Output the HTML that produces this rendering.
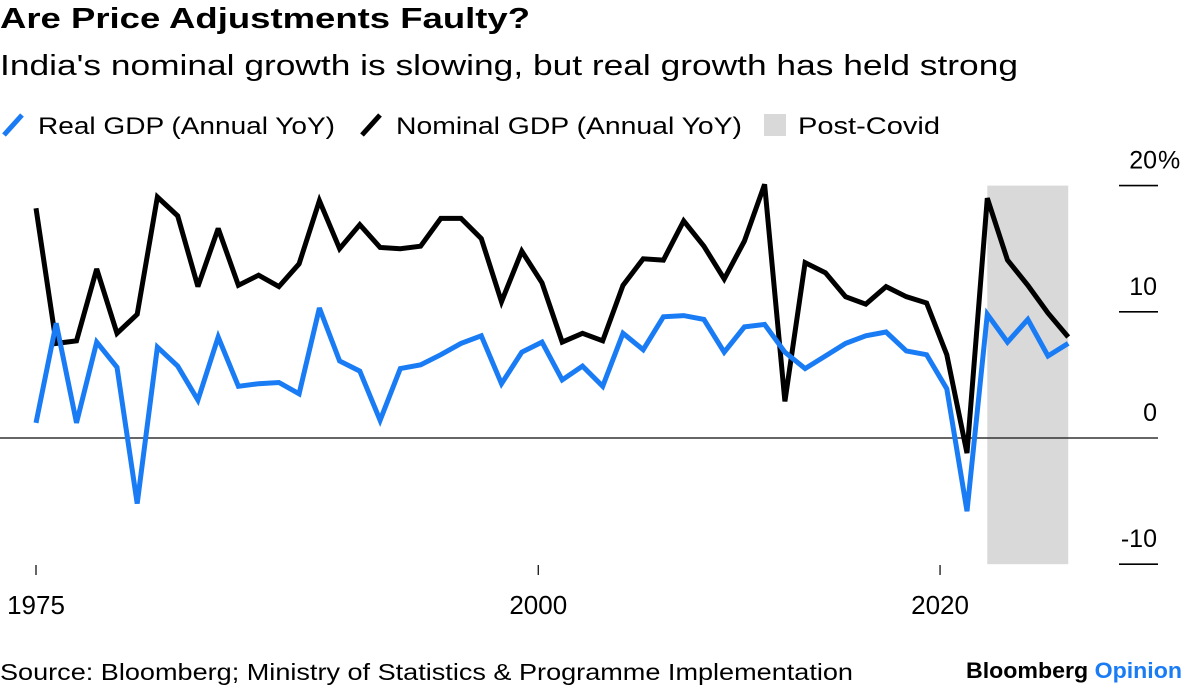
<!DOCTYPE html>
<html><head><meta charset="utf-8"><style>
body{margin:0;background:#fff;width:1184px;height:690px;overflow:hidden;font-family:"Liberation Sans",sans-serif;}
svg{position:absolute;left:0;top:0}
text{font-family:"Liberation Sans",sans-serif}
</style></head><body>
<svg id="chart" width="1184" height="690">
<text x="0" y="28" font-size="29" font-weight="bold" fill="#000" textLength="530" lengthAdjust="spacingAndGlyphs">Are Price Adjustments Faulty?</text>
<text x="0" y="75" font-size="29" fill="#000" textLength="1018" lengthAdjust="spacingAndGlyphs">India's nominal growth is slowing, but real growth has held strong</text>
<g>
<g><line x1="4" y1="135" x2="22" y2="115" stroke="#1a7cf5" stroke-width="5"/><text x="38" y="134" font-size="24" fill="#000" textLength="297" lengthAdjust="spacingAndGlyphs">Real GDP (Annual YoY)</text></g>
<g><line x1="362" y1="135" x2="380" y2="115" stroke="#000" stroke-width="5"/><text x="396" y="134" font-size="24" fill="#000" textLength="346" lengthAdjust="spacingAndGlyphs">Nominal GDP (Annual YoY)</text></g>
<g><rect x="764" y="114" width="22" height="22" fill="#d9d9d9"/><text x="798" y="134" font-size="24" fill="#000" textLength="142" lengthAdjust="spacingAndGlyphs">Post-Covid</text></g>
</g>
<g id="plot"></g>
<text x="0" y="680" font-size="23" fill="#000" textLength="853" lengthAdjust="spacingAndGlyphs">Source: Bloomberg; Ministry of Statistics &amp; Programme Implementation</text>
<text x="966" y="678" font-size="22" font-weight="bold" textLength="216" lengthAdjust="spacingAndGlyphs"><tspan fill="#000">Bloomberg </tspan><tspan fill="#1a7cf5">Opinion</tspan></text>
</svg>
<script>
const years=[];for(let y=1975;y<=2026;y++)years.push(y);
const nominal=[18.2,7.5,7.7,13.4,8.3,9.8,19.1,17.6,12.0,16.6,12.1,12.9,12.0,13.8,18.8,15.0,16.9,15.1,15.0,15.2,17.4,17.4,15.8,10.8,14.8,12.3,7.6,8.3,7.7,12.1,14.2,14.1,17.2,15.2,12.6,15.6,20.1,2.9,13.9,13.1,11.2,10.6,12.0,11.2,10.7,6.6,-1.2,19.0,14.1,12.1,9.9,8.0];
const real=[1.2,9.1,1.2,7.6,5.6,-5.2,7.2,5.7,3.0,8.0,4.1,4.3,4.4,3.5,10.3,6.1,5.3,1.4,5.5,5.8,6.6,7.5,8.1,4.3,6.8,7.6,4.6,5.7,4.1,8.3,7.0,9.6,9.7,9.4,6.8,8.8,9.0,6.8,5.5,6.5,7.5,8.1,8.4,6.9,6.6,3.9,-5.8,9.8,7.6,9.4,6.5,7.5];
const yTicks=[20,10,0,-10];
const yTickLabels=["20","10","0","-10"];
const xTicks=[1975,2000,2020];
const shadeRange=[2022,2026];
const shadeValues=[20,-10];

const NS="http://www.w3.org/2000/svg";
const plot=document.getElementById('plot');
function xScale(y){return 36+(y-1975)*20.24;}
function xTickScale(y){return 36+(y-1975)*20.09;}
function yScale(v){return 438-v*12.62;}
function mk(tag,attrs){const e=document.createElementNS(NS,tag);for(const k in attrs)e.setAttribute(k,attrs[k]);plot.appendChild(e);return e;}

const sh=mk('rect',{x:xScale(shadeRange[0]),y:yScale(shadeValues[0]),width:xScale(shadeRange[1])-xScale(shadeRange[0]),height:yScale(shadeValues[1])-yScale(shadeValues[0]),fill:'#d9d9d9'});



yTicks.forEach((t,i)=>{
  const yy=yScale(t);
  if(t===0){
    const l=mk('line',{x1:0,x2:1158,y1:yy,y2:yy,stroke:'#333','stroke-width':1.4});
    
    
  }else{
    const l=mk('line',{x1:1119,x2:1158,y1:yy,y2:yy,stroke:'#000','stroke-width':1.6});
    
    
  }
  const tx=mk('text',{x:1157,y:yy-17,'font-size':25,'text-anchor':'end',fill:'#000'});
  tx.textContent=yTickLabels[i];
  
  
  if(i===0){
    const pc=mk('text',{x:1158,y:yy-17,'font-size':25,fill:'#000'});
    pc.textContent='%';
    
    
  }
});

xTicks.forEach(t=>{
  const xx=xTickScale(t);
  const l=mk('line',{x1:xx,x2:xx,y1:565,y2:575,stroke:'#000','stroke-width':1.2});
  
  
  const tx=mk('text',{x:xx,y:614,'font-size':26,'text-anchor':'middle',fill:'#000'});
  tx.textContent=String(t);
  
  
});

function line(vals,color,name){
  const d=vals.map((v,i)=>(i?'L':'M')+xScale(years[i]).toFixed(1)+','+yScale(v).toFixed(1)).join(' ');
  const p=mk('path',{d:d,fill:'none',stroke:color,'stroke-width':5,'stroke-linejoin':'miter','stroke-miterlimit':3});
  
  
}
line(nominal,'#000','nominal-gdp-line');
line(real,'#1a7cf5','real-gdp-line');
</script>
</body></html>
